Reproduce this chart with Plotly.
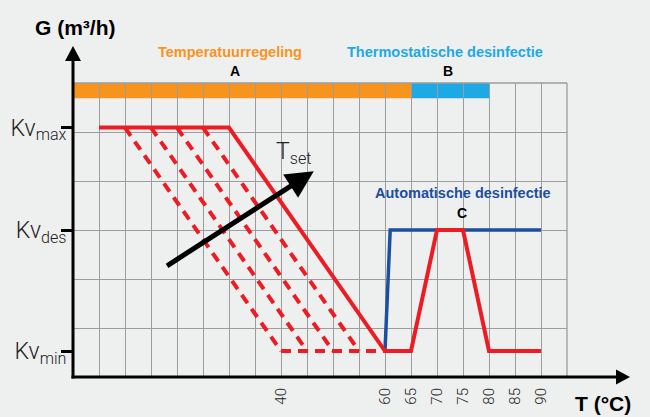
import plotly.graph_objects as go

# ---- data ----
KV_MIN, KV_DES, KV_MAX = 0.53, 3.0, 5.09
kv_levels = [KV_MIN, KV_DES, KV_MAX]
kv_labels = ["Kv<sub>min</sub>", "Kv<sub>des</sub>", "Kv<sub>max</sub>"]

t_main = [5, 30, 60, 65, 70, 75, 80, 90]
g_main = [KV_MAX, KV_MAX, KV_MIN, KV_MIN, KV_DES, KV_DES, KV_MIN, KV_MIN]

t_auto = [60, 61, 90]
g_auto = [KV_MIN, KV_DES, KV_DES]

dash_start = [10, 15, 20, 25]
dash_end = [40, 45, 50, 55]
t_dash_floor = [40, 60]

x_tick_vals = list(range(0, 100, 5))
x_tick_labels = ["40", "60", "65", "70", "75", "80", "85", "90"]

band_A = [0, 65]
band_B = [65, 80]
band_level = [5.69, 6.0]

RED = "#ED1C24"
BLUE = "#1B4F9F"
ORANGE = "#F7941D"
CYAN = "#1CA9E6"
BG = "#EEEFEF"
GRID = "#9C9C9C"

L, R, T, B = 73, 83, 83, 40
W, H = 650, 417
PW, PH = W - L - R, H - T - B


def px(x):
    return (x - L) / PW


def py(y):
    return (H - B - y) / PH


fig = go.Figure()

# automatic disinfection (blue) under red
fig.add_trace(go.Scatter(x=t_auto, y=g_auto, mode="lines",
                         line=dict(color=BLUE, width=3.5), hoverinfo="skip"))

# dashed family
for s, e in zip(dash_start, dash_end):
    fig.add_trace(go.Scatter(x=[s, e], y=[KV_MAX, KV_MIN], mode="lines",
                             line=dict(color=RED, width=4, dash="10px,7px"),
                             hoverinfo="skip"))
fig.add_trace(go.Scatter(x=t_dash_floor, y=[KV_MIN, KV_MIN], mode="lines",
                         line=dict(color=RED, width=4, dash="10px,7px"),
                         hoverinfo="skip"))

# main red curve
fig.add_trace(go.Scatter(x=t_main, y=g_main, mode="lines",
                         line=dict(color=RED, width=4), hoverinfo="skip"))

# y2 overlay for Kv tick marks/labels
fig.add_trace(go.Scatter(x=[None], y=[None], yaxis="y2", showlegend=False))

shapes = [
    dict(type="rect", xref="x", yref="y", x0=band_A[0], x1=band_A[1],
         y0=band_level[0], y1=band_level[1], fillcolor=ORANGE,
         line=dict(width=0), layer="below"),
    dict(type="rect", xref="x", yref="y", x0=band_B[0], x1=band_B[1],
         y0=band_level[0], y1=band_level[1], fillcolor=CYAN,
         line=dict(width=0), layer="below"),
    # grid border (top and right)
    dict(type="line", xref="paper", yref="paper", x0=0, x1=1, y0=1, y1=1,
         line=dict(color=GRID, width=1.3)),
    dict(type="line", xref="paper", yref="paper", x0=1, x1=1, y0=0, y1=1,
         line=dict(color=GRID, width=1.3)),
    # y axis line
    dict(type="line", xref="paper", yref="paper", x0=0, x1=0,
         y0=py(378.5), y1=py(59), line=dict(color="black", width=3)),
    dict(type="path", xref="paper", yref="paper",
         path=f"M {px(73)},{py(46)} L {px(65)},{py(61)} L {px(81)},{py(61)} Z",
         fillcolor="black", line=dict(width=0)),
    # x axis line
    dict(type="line", xref="paper", yref="paper", x0=px(71.5), x1=px(618),
         y0=0, y1=0, line=dict(color="black", width=3)),
    dict(type="path", xref="paper", yref="paper",
         path=f"M {px(630)},{py(377)} L {px(616)},{py(369.5)} L {px(616)},{py(384.5)} Z",
         fillcolor="black", line=dict(width=0)),
]

BOLD = "Liberation Sans, Arial, sans-serif"
LIGHT = "Roboto, Liberation Sans, sans-serif"
ann = []


def add_text(text, x, y, size, color, family=BOLD, weight="bold"):
    ann.append(dict(text=text, xref="paper", yref="paper", x=px(x), y=py(y),
                    xanchor="center", yanchor="middle", showarrow=False,
                    font=dict(size=size, color=color, family=family, weight=weight)))


add_text("Temperatuurregeling", 230, 52, 14.5, ORANGE)
add_text("A", 235, 71, 14, "black")
add_text("Thermostatische desinfectie", 445, 52, 14.5, CYAN)
add_text("B", 448, 71, 14, "black")
add_text("Automatische desinfectie", 463, 193, 14.5, BLUE)
add_text("C", 462, 213, 14, "black")
add_text("G (m³/h)", 75, 27, 21, "black")
add_text("T (°C)", 603, 403, 21, "black")
add_text("T<sub>set</sub>", 293, 153, 23, "#222222", family=LIGHT, weight=300)

# T_set arrow
ann.append(dict(text="", xref="x", yref="y", axref="x", ayref="y",
                x=46.3, y=4.2, ax=17.8, ay=2.25, showarrow=True,
                arrowhead=2, arrowsize=1.1, arrowwidth=5, arrowcolor="black",
                standoff=0))

fig.update_layout(
    width=W, height=H,
    margin=dict(l=L, r=R, t=T, b=B),
    paper_bgcolor=BG, plot_bgcolor=BG,
    showlegend=False,
    shapes=shapes, annotations=ann,
    xaxis=dict(range=[0, 95], tickvals=x_tick_vals,
               ticktext=[str(v) if str(v) in x_tick_labels else "" for v in x_tick_vals],
               tickangle=-90, ticks="", showgrid=True, gridcolor=GRID, gridwidth=1.3,
               zeroline=False, showline=False, ticklabelstandoff=7, automargin=False,
               tickfont=dict(size=15, color="#222222", family=LIGHT, weight=300)),
    yaxis=dict(range=[0, 6], tickvals=[0, 1, 2, 3, 4, 5, 6], showticklabels=False,
               ticks="", showgrid=True, gridcolor=GRID, gridwidth=1.3,
               zeroline=False, showline=False, automargin=False),
    yaxis2=dict(range=[0, 6], overlaying="y", side="left", tickvals=kv_levels,
                ticktext=kv_labels, ticks="outside", ticklen=11, tickwidth=3,
                tickcolor="black", showgrid=False, zeroline=False, showline=False,
                ticklabelstandoff=-10, automargin=False,
                tickfont=dict(size=23, color="#222222", family=LIGHT, weight=300)),
)

fig.write_html("out.html",
               config={"displayModeBar": False},
               post_script="document.body.style.margin='0';"
                           "document.body.style.overflow='hidden';")
